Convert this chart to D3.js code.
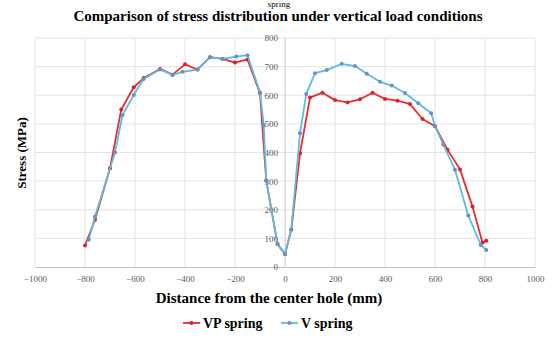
<!DOCTYPE html>
<html>
<head>
<meta charset="utf-8">
<script src="https://cdn.jsdelivr.net/npm/d3@7"></script>
<style>
  body { margin: 0; background: #fff; }
  svg { display: block; }
</style>
</head>
<body>
<svg id="chart"></svg>
<script>
// x values (mm) and stress (MPa) for each spring
const vpX = [-800, -760, -700, -655, -605, -565, -500, -450, -400, -350, -300, -250, -200, -150, -100, -75, -30, 0, 25, 60, 100, 150, 200, 250, 300, 350, 400, 450, 500, 550, 600, 650, 700, 750, 790, 805];
const vpY = [75, 165, 345, 550, 628, 660, 692, 672, 708, 690, 733, 727, 714, 725, 607, 302, 80, 45, 130, 397, 592, 609, 583, 575, 586, 609, 587, 581, 569, 517, 492, 410, 341, 211, 85, 92];

const vX = [-785, -760, -680, -650, -605, -567, -500, -450, -410, -350, -300, -250, -195, -150, -100, -85, -75, -30, 0, 25, 60, 85, 120, 167, 227, 280, 327, 380, 427, 480, 533, 585, 600, 633, 680, 733, 783, 805];
const vY = [95, 176, 400, 531, 601, 656, 690, 671, 682, 690, 733, 727, 735, 740, 610, 495, 302, 80, 45, 130, 467, 604, 677, 688, 710, 702, 675, 647, 634, 608, 572, 537, 492, 428, 340, 180, 77, 59];

const xTicks = [-1000, -800, -600, -400, -200, 0, 200, 400, 600, 800, 1000];
const yTicks = [0, 100, 200, 300, 400, 500, 600, 700, 800];

const seriesNames = ['VP spring', 'V spring'];

const width = 552, height = 344;
const serif = '"Liberation Serif", "Times New Roman", serif';

const svg = d3.select('#chart')
  .attr('width', width)
  .attr('height', height);

const x = d3.scaleLinear().domain([-1000, 1000]).range([35, 535]);
const y = d3.scaleLinear().domain([0, 800]).range([267, 38]);

// caption remnant from the page above
svg.append('text')
  .attr('x', 279).attr('y', 7)
  .attr('text-anchor', 'middle')
  .style('font-family', serif)
  .style('font-size', '9px')
  .text('spring');

// title
svg.append('text')
  .attr('x', 278).attr('y', 21)
  .attr('text-anchor', 'middle')
  .style('font-family', serif)
  .style('font-weight', 'bold')
  .style('font-size', '15px')
  .text('Comparison of stress distribution under vertical load conditions');

// grid
svg.append('g')
  .selectAll('line')
  .data(yTicks.slice(1))
  .enter()
  .append('line')
  .attr('x1', x(-1000)).attr('x2', x(1000))
  .attr('y1', d => y(d)).attr('y2', d => y(d))
  .attr('stroke', '#e3e3e3')
  .attr('stroke-width', 1);

svg.append('g')
  .selectAll('line')
  .data(xTicks)
  .enter()
  .append('line')
  .attr('x1', d => x(d)).attr('x2', d => x(d))
  .attr('y1', y(0)).attr('y2', y(800))
  .attr('stroke', '#e3e3e3')
  .attr('stroke-width', 1);

// x axis
const xAxis = svg.append('g')
  .attr('transform', `translate(0, ${y(0)})`)
  .call(d3.axisBottom(x).tickValues(xTicks).tickFormat(d3.format('d')).tickSize(0).tickPadding(9));
xAxis.select('.domain').attr('stroke', '#bfbfbf');
xAxis.selectAll('text')
  .style('font-family', serif)
  .style('font-size', '9px')
  .attr('fill', '#595959');

// y axis sits at x = 0
const yAxis = svg.append('g')
  .attr('transform', `translate(${x(0)}, 0)`)
  .call(d3.axisLeft(y).tickValues(yTicks).tickFormat(d3.format('d')).tickSize(0).tickPadding(7));
yAxis.select('.domain').attr('stroke', '#d9d9d9');
yAxis.selectAll('text')
  .style('font-family', serif)
  .style('font-size', '9px')
  .attr('fill', '#595959');

// axis titles
svg.append('text')
  .attr('x', 269).attr('y', 303)
  .attr('text-anchor', 'middle')
  .style('font-family', serif)
  .style('font-weight', 'bold')
  .style('font-size', '15px')
  .text('Distance from the center hole (mm)');

svg.append('text')
  .attr('transform', 'translate(26, 153) rotate(-90)')
  .attr('text-anchor', 'middle')
  .style('font-family', serif)
  .style('font-weight', 'bold')
  .style('font-size', '13px')
  .text('Stress (MPa)');

// series
const series = [
  { name: seriesNames[0], xs: vpX, ys: vpY, line: '#ee2a2a', dot: '#d42230' },
  { name: seriesNames[1], xs: vX, ys: vY, line: '#5cbde0', dot: '#6e8fc4' }
];

const line = d3.line()
  .x(d => x(d[0]))
  .y(d => y(d[1]));

series.forEach(s => {
  const pts = s.xs.map((d, i) => [d, s.ys[i]]);
  const g = svg.append('g');
  g.append('path')
    .datum(pts)
    .attr('d', line)
    .attr('fill', 'none')
    .attr('stroke', s.line)
    .attr('stroke-width', 1.8)
    .attr('stroke-linejoin', 'round');
  g.selectAll('circle')
    .data(pts)
    .enter()
    .append('circle')
    .attr('cx', d => x(d[0]))
    .attr('cy', d => y(d[1]))
    .attr('r', 2)
    .attr('fill', s.dot);
});

// legend
const legend = svg.append('g');
const legendPos = [183, 281];
series.forEach((s, i) => {
  const lx = legendPos[i];
  legend.append('line')
    .attr('x1', lx).attr('x2', lx + 17)
    .attr('y1', 323).attr('y2', 323)
    .attr('stroke', s.line)
    .attr('stroke-width', 1.8);
  legend.append('circle')
    .attr('cx', lx + 8.5).attr('cy', 323)
    .attr('r', 2)
    .attr('fill', s.dot);
  legend.append('text')
    .attr('x', lx + 20).attr('y', 328)
    .style('font-family', serif)
    .style('font-weight', 'bold')
    .style('font-size', '14px')
    .text(s.name);
});
</script>
</body>
</html>
